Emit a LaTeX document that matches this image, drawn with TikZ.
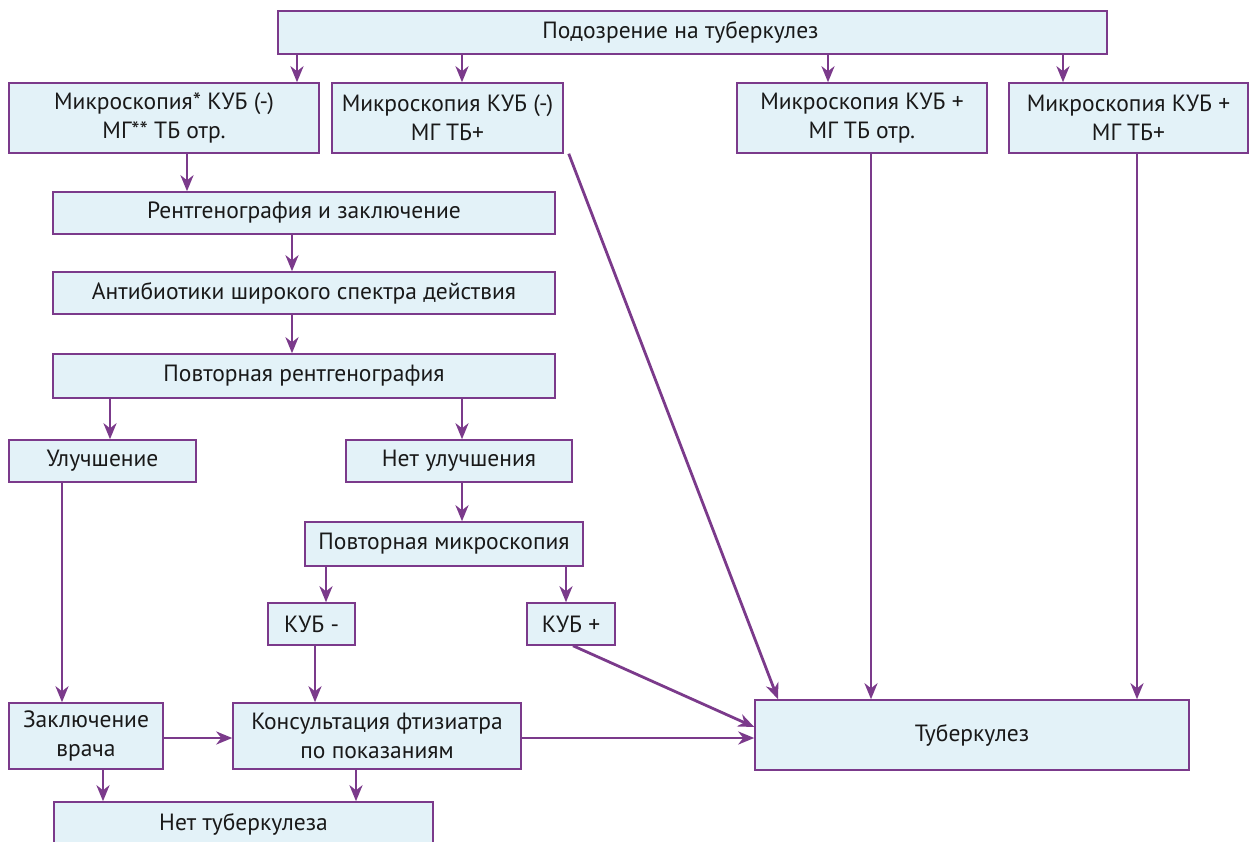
\documentclass[tikz,border=0pt]{standalone}
\usepackage{fontspec}
\setmainfont{PT Sans}
\usetikzlibrary{arrows.meta}
\definecolor{boxfill}{HTML}{E3F2F8}
\definecolor{purp}{HTML}{7B3A8B}
\tikzset{
  box/.style={draw=purp, fill=boxfill, line width=1.5pt, align=center, inner sep=0pt, text=black!90, font=\fontsize{23.5}{29}\selectfont},
  arr/.style={draw=purp, line width=2.8pt, -{Stealth[length=16pt,width=13pt,inset=5pt]}},
}
\begin{document}
\begin{tikzpicture}[x=1pt,y=-1pt]
\useasboundingbox (0,0) rectangle (1251,842);
\node[box, minimum width=829pt, minimum height=43pt] (top) at (692.5,32.5) {Подозрение на туберкулез\hspace*{24pt}};
\node[box, minimum width=310pt, minimum height=70pt] (m1) at (164,118) {Микроскопия* КУБ (-)\\МГ** ТБ отр.};
\node[box, minimum width=231pt, minimum height=70pt] (m2) at (447.5,118) {Микроскопия КУБ (-)\\МГ ТБ+};
\node[box, minimum width=250pt, minimum height=70pt] (m3) at (862,118) {Микроскопия КУБ +\\МГ ТБ отр.};
\node[box, minimum width=239pt, minimum height=70pt] (m4) at (1128.5,118) {Микроскопия КУБ +\\МГ ТБ+};
\node[box, minimum width=502pt, minimum height=42pt] (rent) at (304,213) {Рентгенография и заключение};
\node[box, minimum width=502pt, minimum height=42pt] (anti) at (304,293) {Антибиотики широкого спектра действия};
\node[box, minimum width=502pt, minimum height=44pt] (prent) at (304,376) {Повторная рентгенография};
\node[box, minimum width=187pt, minimum height=42pt] (ul) at (102.5,461) {Улучшение};
\node[box, minimum width=226pt, minimum height=42pt] (nul) at (459,461) {Нет улучшения};
\node[box, minimum width=278pt, minimum height=44pt] (pmic) at (444,544) {Повторная микроскопия};
\node[box, minimum width=87pt, minimum height=42pt] (kneg) at (311.5,624) {КУБ -};
\node[box, minimum width=88pt, minimum height=42pt] (kpos) at (571,624) {КУБ +};
\node[box, minimum width=154pt, minimum height=66pt] (zak) at (86,736) {Заключение\\врача};
\node[box, minimum width=288pt, minimum height=66pt] (kons) at (377,736) {Консультация фтизиатра\\по показаниям};
\node[box, minimum width=434pt, minimum height=70pt] (tb) at (972,735) {Туберкулез};
\node[box, minimum width=379pt, minimum height=44pt] (ntb) at (243.5,824) {Нет туберкулеза};
% arrows
\draw[arr] (top.south -| 297,0) -- (m1.north -| 297,0);
\draw[arr] (top.south -| 462,0) -- (m2.north -| 462,0);
\draw[arr] (top.south -| 828,0) -- (m3.north -| 828,0);
\draw[arr] (top.south -| 1063,0) -- (m4.north -| 1063,0);
\draw[arr] (m1.south -| 187,0) -- (rent.north -| 187,0);
\draw[arr] (rent.south -| 292,0) -- (anti.north -| 292,0);
\draw[arr] (anti.south -| 292,0) -- (prent.north -| 292,0);
\draw[arr] (prent.south -| 110,0) -- (ul.north -| 110,0);
\draw[arr] (prent.south -| 462,0) -- (nul.north -| 462,0);
\draw[arr] (nul.south -| 462,0) -- (pmic.north -| 462,0);
\draw[arr] (pmic.south -| 326,0) -- (kneg.north -| 326,0);
\draw[arr] (pmic.south -| 566,0) -- (kpos.north -| 566,0);
\draw[arr] (kneg.south -| 315,0) -- (kons.north -| 315,0);
\draw[arr] (kpos.south -| 573,0) -- (tb.west |- 0,727);
\draw[arr] ([xshift=5pt]m2.south east) -- (tb.north -| 778,0);
\draw[arr] (m3.south -| 871,0) -- (tb.north -| 871,0);
\draw[arr] (m4.south -| 1137,0) -- (tb.north -| 1137,0);
\draw[arr] (ul.south -| 62,0) -- (zak.north -| 62,0);
\draw[arr] (zak.east |- 0,738) -- (kons.west |- 0,738);
\draw[arr] (kons.east |- 0,738) -- (tb.west |- 0,738);
\draw[arr] (zak.south -| 103,0) -- (ntb.north -| 103,0);
\draw[arr] (kons.south -| 356,0) -- (ntb.north -| 356,0);
\end{tikzpicture}
\end{document}
